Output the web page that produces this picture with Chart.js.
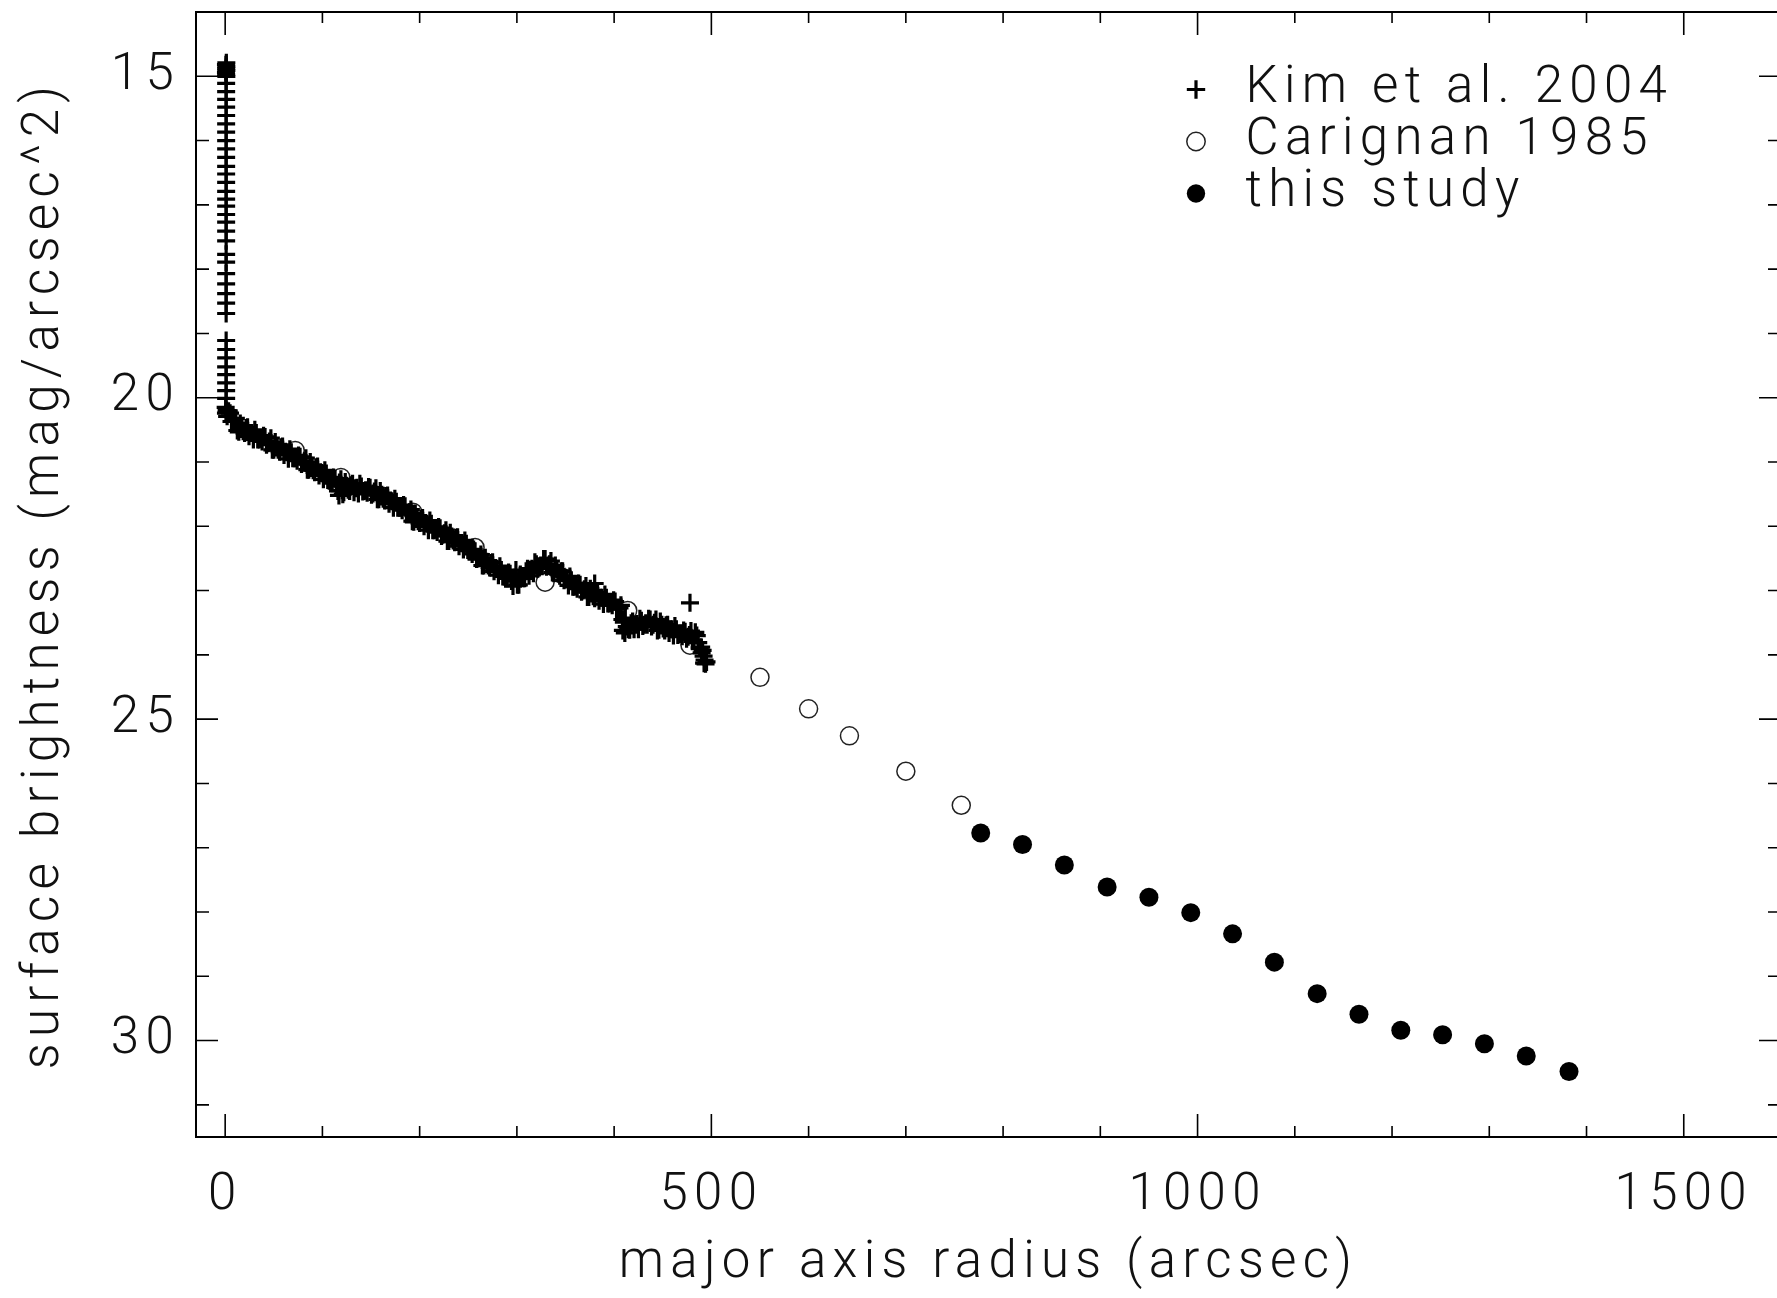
<!DOCTYPE html>
<html>
<head>
<meta charset="utf-8">
<title>surface brightness profile</title>
<style>
  html, body { margin: 0; padding: 0; background: #fff; overflow: hidden; }
  .wrap { width: 1784px; height: 1298px; }
  canvas { display: block; }
</style>
<script src="https://cdn.jsdelivr.net/npm/chart.js@4.4.1/dist/chart.umd.min.js"></script>
</head>
<body>
<div class="wrap"><canvas id="chart" width="1784" height="1298"></canvas></div>
<script>
// Kim et al. 2004: the central spike at r ~ 0, then the dense profile out to ~495"
const kimR = [
  1.2, 0.8, 1.2, 1.0, 1.2, 0.8, 1.0, 1.2, 1, 1,
  1, 1, 1, 1, 1, 1, 1, 1, 1, 1,
  1, 1, 1, 1, 1, 1, 1, 1, 1, 1,
  1, 1, 1, 1, 1, 1, 1, 1, 1, 1,
  1, 1, 1, 0.5, 1.5, 0.8,
  2, 5, 8, 11, 14, 17, 20, 23, 26, 29,
  32, 35, 38, 41, 44, 47, 50, 53, 56, 59,
  62, 65, 68, 71, 74, 77, 80, 83, 86, 89,
  92, 95, 98, 101, 104, 107, 110, 113, 116, 119,
  122, 125, 128, 131, 134, 137, 140, 143, 146, 149,
  152, 155, 158, 161, 164, 167, 170, 173, 176, 179,
  182, 185, 188, 191, 194, 197, 200, 203, 206, 209,
  212, 215, 218, 221, 224, 227, 230, 233, 236, 239,
  242, 245, 248, 251, 254, 257, 260, 263, 266, 269,
  272, 275, 278, 281, 284, 287, 290, 293, 296, 299,
  302, 305, 308, 311, 314, 317, 320, 323, 326, 329,
  332, 335, 338, 341, 344, 347, 350, 353, 356, 359,
  362, 365, 368, 371, 374, 377, 380, 383, 386, 389,
  392, 395, 398, 401, 404, 407, 410, 413, 416, 419,
  422, 425, 428, 431, 434, 437, 440, 443, 446, 449,
  452, 455, 458, 461, 464, 467, 470, 473, 476, 479,
  482, 485, 488, 491, 494,
  3.5, 6.5, 9.5, 12.5, 15.5, 18.5, 21.5, 24.5, 27.5, 30.5,
  33.5, 36.5, 39.5, 42.5, 45.5, 48.5, 51.5, 54.5, 57.5, 60.5,
  63.5, 66.5, 69.5, 72.5, 75.5, 78.5, 81.5, 84.5, 87.5, 90.5,
  93.5, 96.5, 99.5, 102.5, 105.5, 108.5, 111.5, 114.5, 117.5, 120.5,
  123.5, 126.5, 129.5, 132.5, 135.5, 138.5, 141.5, 144.5, 147.5, 150.5,
  153.5, 156.5, 159.5, 162.5, 165.5, 168.5, 171.5, 174.5, 177.5, 180.5,
  183.5, 186.5, 189.5, 192.5, 195.5, 198.5, 201.5, 204.5, 207.5, 210.5,
  213.5, 216.5, 219.5, 222.5, 225.5, 228.5, 231.5, 234.5, 237.5, 240.5,
  243.5, 246.5, 249.5, 252.5, 255.5, 258.5, 261.5, 264.5, 267.5, 270.5,
  273.5, 276.5, 279.5, 282.5, 285.5, 288.5, 291.5, 294.5, 297.5, 300.5,
  303.5, 306.5, 309.5, 312.5, 315.5, 318.5, 321.5, 324.5, 327.5, 330.5,
  333.5, 336.5, 339.5, 342.5, 345.5, 348.5, 351.5, 354.5, 357.5, 360.5,
  363.5, 366.5, 369.5, 372.5, 375.5, 378.5, 381.5, 384.5, 387.5, 390.5,
  393.5, 396.5, 399.5, 402.5, 405.5, 408.5, 411.5, 414.5, 417.5, 420.5,
  423.5, 426.5, 429.5, 432.5, 435.5, 438.5, 441.5, 444.5, 447.5, 450.5,
  453.5, 456.5, 459.5, 462.5, 465.5, 468.5, 471.5, 474.5, 477.5, 480.5,
  483.5, 486.5, 489.5, 492.5,
  117, 121, 380, 409, 411, 478, 490, 492, 493, 495
];
const kimMu = [
  14.79, 14.82, 14.85, 14.88, 14.91, 14.94, 14.97, 15.00, 15.11, 15.24,
  15.36, 15.48, 15.61, 15.74, 15.87, 16.00, 16.13, 16.26, 16.40, 16.52,
  16.65, 16.79, 16.91, 17.02, 17.15, 17.27, 17.41, 17.56, 17.77, 17.89,
  18.07, 18.23, 18.38, 18.53, 18.69, 19.11, 19.25, 19.38, 19.52, 19.64,
  19.77, 19.89, 20.01, 20.15, 20.20, 20.24,
  20.29, 20.24, 20.37, 20.32, 20.53, 20.46, 20.55, 20.46, 20.55, 20.65,
  20.55, 20.65, 20.68, 20.61, 20.71, 20.63, 20.81, 20.75, 20.84, 20.76,
  20.84, 20.95, 20.85, 20.94, 20.98, 20.92, 21.01, 20.94, 21.12, 21.06,
  21.16, 21.07, 21.16, 21.27, 21.18, 21.29, 21.33, 21.26, 21.45, 21.27,
  21.47, 21.37, 21.45, 21.34, 21.41, 21.49, 21.38, 21.45, 21.48, 21.40,
  21.49, 21.41, 21.58, 21.51, 21.60, 21.52, 21.60, 21.71, 21.62, 21.71,
  21.75, 21.69, 21.80, 21.74, 21.93, 21.86, 21.95, 21.87, 21.95, 22.06,
  21.96, 22.06, 22.09, 22.03, 22.13, 22.06, 22.23, 22.16, 22.25, 22.17,
  22.26, 22.36, 22.27, 22.38, 22.43, 22.39, 22.50, 22.44, 22.61, 22.55,
  22.64, 22.56, 22.65, 22.76, 22.68, 22.78, 22.81, 22.74, 22.93, 22.68,
  22.91, 22.78, 22.81, 22.66, 22.69, 22.73, 22.59, 22.64, 22.62, 22.51,
  22.61, 22.54, 22.73, 22.67, 22.77, 22.70, 22.80, 22.92, 22.84, 22.94,
  22.97, 22.91, 23.00, 22.93, 23.10, 23.03, 23.12, 23.03, 23.11, 23.21,
  23.11, 23.20, 23.23, 23.17, 23.28, 23.23, 23.49, 23.56, 23.61, 23.48,
  23.53, 23.60, 23.47, 23.53, 23.53, 23.45, 23.53, 23.45, 23.61, 23.53,
  23.62, 23.53, 23.60, 23.70, 23.60, 23.68, 23.71, 23.64, 23.72, 23.63,
  23.78, 23.70, 23.89, 23.93, 24.14,
  20.21, 20.37, 20.36, 20.51, 20.40, 20.52, 20.47, 20.60, 20.55, 20.50,
  20.65, 20.64, 20.59, 20.73, 20.68, 20.81, 20.69, 20.81, 20.77, 20.89,
  20.85, 20.80, 20.94, 20.94, 20.90, 21.03, 20.99, 21.12, 21.00, 21.13,
  21.08, 21.21, 21.17, 21.13, 21.28, 21.29, 21.24, 21.37, 21.32, 21.44,
  21.31, 21.43, 21.36, 21.47, 21.40, 21.34, 21.46, 21.44, 21.39, 21.51,
  21.46, 21.58, 21.45, 21.57, 21.53, 21.65, 21.61, 21.57, 21.71, 21.71,
  21.67, 21.81, 21.78, 21.92, 21.80, 21.92, 21.88, 22.00, 21.96, 21.91,
  22.06, 22.05, 22.01, 22.15, 22.11, 22.23, 22.10, 22.22, 22.18, 22.31,
  22.26, 22.22, 22.37, 22.38, 22.36, 22.51, 22.48, 22.61, 22.49, 22.61,
  22.57, 22.70, 22.66, 22.62, 22.78, 22.77, 22.72, 22.85, 22.80, 22.91,
  22.75, 22.81, 22.70, 22.77, 22.66, 22.56, 22.66, 22.61, 22.51, 22.63,
  22.59, 22.72, 22.61, 22.74, 22.70, 22.84, 22.81, 22.78, 22.94, 22.93,
  22.89, 23.02, 22.98, 23.10, 22.97, 23.09, 23.04, 23.16, 23.11, 23.06,
  23.20, 23.19, 23.15, 23.29, 23.27, 23.45, 23.43, 23.60, 23.51, 23.60,
  23.52, 23.44, 23.55, 23.51, 23.44, 23.56, 23.50, 23.62, 23.48, 23.59,
  23.54, 23.66, 23.60, 23.55, 23.69, 23.67, 23.62, 23.75, 23.69, 23.79,
  23.65, 23.81, 23.88, 24.13,
  21.52, 21.50, 22.89, 23.62, 23.66, 23.19, 23.97, 24.02, 24.08, 24.11
];

// Carignan 1985
const carR = [72, 119, 193, 257, 329, 414, 478, 550, 600, 642, 700, 757];
const carMu = [20.82, 21.24, 21.78, 22.33, 22.87, 23.31, 23.85, 24.35, 24.84, 25.26, 25.81, 26.34];

// this study
const studyR = [777, 820, 863, 907, 950, 993, 1036, 1079, 1123, 1166, 1209, 1252, 1295, 1338, 1382];
const studyMu = [26.77, 26.95, 27.27, 27.61, 27.77, 28.01, 28.34, 28.78, 29.27, 29.59, 29.84, 29.91, 30.05, 30.24, 30.48];

const xLabelled = [0, 500, 1000, 1500];
const yLabelled = [15, 20, 25, 30];

const LETTER_SPACING = '6.3px';
const LEGEND_LEFT = 1171;
const LEGEND_TOP = 63;

const toPoints = (xs, ys) => xs.map((x, i) => ({ x, y: ys[i] }));

Chart.defaults.font = { family: 'Roboto, "DejaVu Sans", sans-serif', size: 51, weight: 300, lineHeight: 1.2 };
Chart.defaults.color = '#111';

// frame with inward major/minor ticks on all four sides, legend placed inside the plot
const plotFrame = {
  id: 'plotFrame',
  beforeUpdate: (chart) => { chart.ctx.letterSpacing = LETTER_SPACING; },
  beforeDraw: (chart) => { chart.ctx.letterSpacing = LETTER_SPACING; },
  afterLayout: (chart) => {
    const legend = chart.legend;
    legend.left = LEGEND_LEFT;
    legend.top = LEGEND_TOP;
    legend.right = legend.left + legend.width;
    legend.bottom = legend.top + legend.height;
  },
  afterDraw: (chart) => {
    const { ctx, chartArea: a, scales: { x, y } } = chart;
    ctx.save();
    ctx.strokeStyle = '#000';
    ctx.lineWidth = 2;
    ctx.strokeRect(a.left, a.top, a.right - a.left, a.bottom - a.top);
    ctx.lineWidth = 1.6;
    ctx.beginPath();
    x.ticks.forEach(({ value }) => {
      const px = x.getPixelForValue(value);
      const len = xLabelled.includes(value) ? 23 : 11;
      ctx.moveTo(px, a.bottom);
      ctx.lineTo(px, a.bottom - len);
      ctx.moveTo(px, a.top);
      ctx.lineTo(px, a.top + len);
    });
    y.ticks.forEach(({ value }) => {
      const py = y.getPixelForValue(value);
      const len = yLabelled.includes(value) ? 22 : 13;
      ctx.moveTo(a.left, py);
      ctx.lineTo(a.left + len, py);
      ctx.moveTo(a.right, py);
      ctx.lineTo(a.right - len, py);
    });
    ctx.stroke();
    ctx.restore();
  },
};

new Chart(document.getElementById('chart'), {
  type: 'scatter',
  data: {
    datasets: [
      {
        label: 'Kim et al. 2004',
        data: toPoints(kimR, kimMu),
        pointStyle: 'cross',
        pointRadius: 9,
        pointHoverRadius: 9,
        borderColor: '#000',
        pointBorderColor: '#000',
        backgroundColor: '#000',
        borderWidth: 3.2,
        pointBorderWidth: 3.2,
      },
      {
        label: 'Carignan 1985',
        data: toPoints(carR, carMu),
        pointStyle: 'circle',
        pointRadius: 9,
        pointHoverRadius: 9,
        borderColor: '#222',
        pointBorderColor: '#222',
        backgroundColor: 'rgba(255,255,255,0)',
        pointBackgroundColor: 'rgba(255,255,255,0)',
        borderWidth: 1.5,
        pointBorderWidth: 1.5,
      },
      {
        label: 'this study',
        data: toPoints(studyR, studyMu),
        pointStyle: 'circle',
        pointRadius: 9.5,
        pointHoverRadius: 9.5,
        borderColor: '#000',
        pointBorderColor: '#000',
        backgroundColor: '#000',
        pointBackgroundColor: '#000',
        borderWidth: 0,
        pointBorderWidth: 0,
      },
    ],
  },
  options: {
    responsive: false,
    devicePixelRatio: 1,
    animation: false,
    events: [],
    layout: { autoPadding: false, padding: { top: 12, right: 3, bottom: 0, left: 0 } },
    plugins: {
      tooltip: { enabled: false },
      legend: {
        position: 'chartArea',
        align: 'start',
        labels: {
          usePointStyle: true,
          boxWidth: 48,
          boxHeight: 13,
          padding: 1,
          color: '#111',
        },
      },
    },
    scales: {
      x: {
        type: 'linear',
        min: -30,
        max: 1600,
        afterFit: (s) => { s.height = 161; s.paddingLeft = 0; s.paddingRight = 0; },
        grid: { display: false, drawTicks: false },
        border: { display: false },
        ticks: {
          stepSize: 100,
          autoSkip: false,
          includeBounds: false,
          maxRotation: 0,
          padding: 29,
          callback: (v) => (xLabelled.includes(v) ? String(v) : ''),
        },
        title: {
          display: true,
          text: 'major axis radius (arcsec)',
          padding: { top: 0, bottom: 3 },
        },
      },
      y: {
        type: 'linear',
        reverse: true,
        min: 14,
        max: 31.5,
        afterFit: (s) => { s.width = 196; s.paddingTop = 0; s.paddingBottom = 0; },
        grid: { display: false, drawTicks: false },
        border: { display: false },
        ticks: {
          stepSize: 1,
          autoSkip: false,
          includeBounds: false,
          padding: 16,
          callback: (v) => (yLabelled.includes(v) ? String(v) : ''),
        },
        title: {
          display: true,
          text: 'surface brightness (mag/arcsec^2)',
          padding: { top: 15, bottom: 0 },
        },
      },
    },
  },
  plugins: [plotFrame],
});
</script>
</body>
</html>
